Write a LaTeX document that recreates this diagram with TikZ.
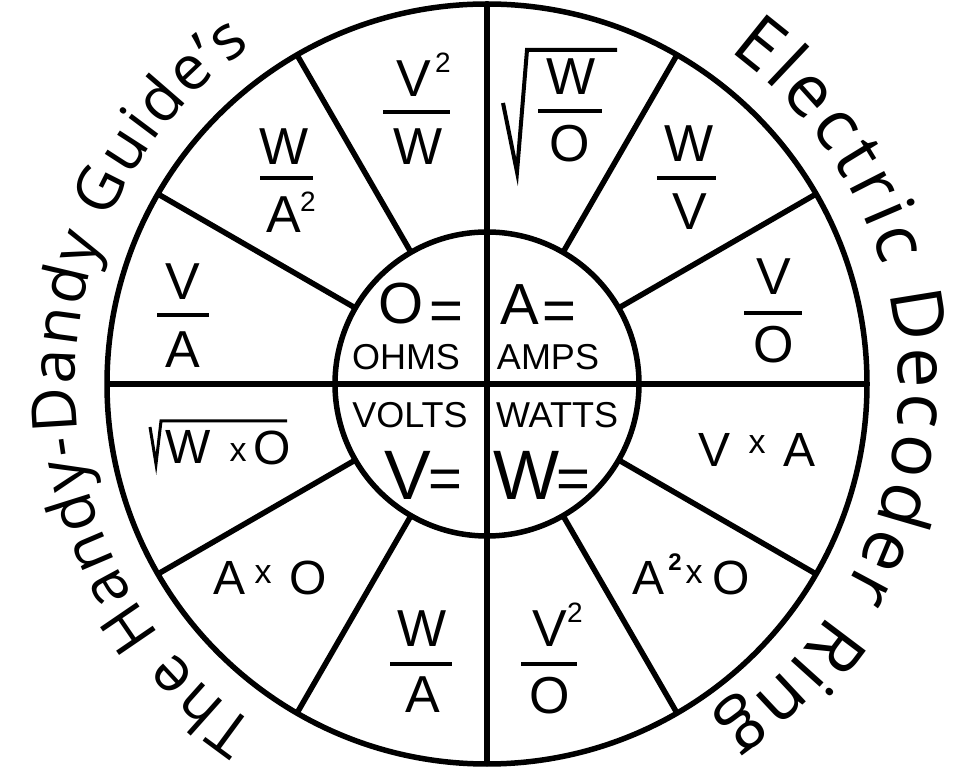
\documentclass[tikz,border=0pt]{standalone}
\usepackage{fontspec}
\setmainfont{Liberation Sans}
\newfontfamily\ringfont{Open Sans}
\usetikzlibrary{decorations.text}
\newcommand\ringsmall{\fontsize{62}{62}\selectfont\ringfont}
\newcommand\ringlarge{\fontsize{72}{72}\selectfont\ringfont}
\begin{document}
\begin{tikzpicture}[x=1pt,y=1pt,
  ringline/.style={line width=5.5pt},
  fbar/.style={line width=4pt},
  radline/.style={line width=4pt, line join=miter},
  fr/.style={font=\fontsize{52}{52}\selectfont, inner sep=0pt, anchor=base},
  supsc/.style={font=\fontsize{28}{28}\selectfont, inner sep=0pt, anchor=base},
  inl/.style={font=\fontsize{48}{48}\selectfont, inner sep=0pt, anchor=base},
  tx/.style={font=\fontsize{34}{34}\selectfont, inner sep=0pt, anchor=base},
  cbig/.style={font=\fontsize{58}{58}\selectfont, inner sep=0pt, anchor=base},
  cbigger/.style={font=\fontsize{70}{70}\selectfont, inner sep=0pt, anchor=base},
  clbl/.style={font=\fontsize{36}{36}\selectfont, inner sep=0pt, anchor=base}
]
\useasboundingbox (0,0) rectangle (974,768);
\fill[white] (0,0) rectangle (974,768);
\coordinate (c) at (487,384);

% rings and spokes
\draw[ringline] (c) circle[radius=380];
\draw[ringline] (c) circle[radius=152];
\draw[ringline, shift={(c)}] (90:380) -- (270:380);
\draw[ringline, shift={(c)}] (0:380) -- (180:380);
\foreach \a in {30,60,120,150,210,240,300,330}
  \draw[ringline, shift={(c)}] (\a:152) -- (\a:380);

% ring texts
\path[decorate, decoration={text along path, text={|\ringsmall|The Handy-Dandy Guide’s}, text align={fit to path}}, shift={(c)}]
  (236:412) arc[start angle=236, end angle=125, radius=412];
\path[decorate, decoration={text along path, text={|\ringlarge|Electric Decoder Ring}, text align={fit to path}}, shift={(c)}]
  (54:412) arc[start angle=54, end angle=-56, radius=412];

% centre
\node[cbig] (cO) at (401,444) {O};
\node[cbig] (cOe) at (446,437) {=};
\node[clbl] (ohms) at (406,398) {OHMS};
\node[cbig] (cA) at (520,443) {A};
\node[cbig] (cAe) at (559,437) {=};
\node[clbl] (amps) at (548,398) {AMPS};
\node[clbl] (volts) at (410,340) {VOLTS};
\node[cbigger] (cV) at (408,268) {V};
\node[cbig] (cVe) at (445,269) {=};
\node[clbl] (watts) at (557,340) {WATTS};
\node[cbigger] (cW) at (527,268) {W};
\node[cbig] (cWe) at (573,269) {=};

% V^2 / W
\node[fr] (n1) at (414,671) {V};
\node[supsc] (n1s) at (443,695) {2};
\draw[fbar] (383,656) -- (450,656);
\node[fr] (d1) at (418,603) {W};

% sqrt(W/O)
\node[fr] (n2) at (571,673) {W};
\draw[fbar] (538,657) -- (602,657);
\node[fr] (d2) at (570,606) {O};
\draw[radline] (503,665) -- (517,596) -- (527,718) -- (617,718);

% W / A^2
\node[fr] (n3) at (284,603) {W};
\draw[fbar] (260,590) -- (313,590);
\node[fr] (d3) at (284,535) {A};
\node[supsc] (d3s) at (308,556) {2};

% V / A
\node[fr] (n4) at (183,468) {V};
\draw[fbar] (157,453) -- (209,453);
\node[fr] (d4) at (183,400) {A};

% W / V
\node[fr] (n5) at (689,606) {W};
\draw[fbar] (657,590) -- (716,590);
\node[fr] (d5) at (690,538) {V};

% V / O
\node[fr] (n6) at (774,473) {V};
\draw[fbar] (744,455) -- (802,455);
\node[fr] (d6) at (774,405) {O};

% W / A (bottom)
\node[fr] (n7) at (422,121) {W};
\draw[fbar] (390,104) -- (452,104);
\node[fr] (d7) at (423,55) {A};

% V^2 / O
\node[fr] (n8) at (550,121) {V};
\node[supsc] (n8s) at (575,145) {2};
\draw[fbar] (521,104) -- (577,104);
\node[fr] (d8) at (550,54) {O};

% sqrt(W x O)
\draw[line width=3pt] (150,341) -- (156,304) -- (161,347) -- (287,347);
\node[inl] (i1a) at (188,304) {W};
\node[tx] (i1x) at (238,306) {x};
\node[inl] (i1b) at (272,303) {O};

% A x O
\node[inl] (i2a) at (230,173) {A};
\node[tx] (i2x) at (263,184) {x};
\node[inl] (i2b) at (308,173) {O};

% A^2 x O
\node[inl] (i3a) at (648,173) {A};
\node[supsc, font=\fontsize{24}{24}\selectfont\bfseries] (i3s) at (675,197) {2};
\node[tx] (i3x) at (694,184) {x};
\node[inl] (i3b) at (731,173) {O};

% V x A
\node[inl] (i4a) at (714,301) {V};
\node[tx] (i4x) at (757,314) {x};
\node[inl] (i4b) at (799,301) {A};
\end{tikzpicture}
\end{document}
